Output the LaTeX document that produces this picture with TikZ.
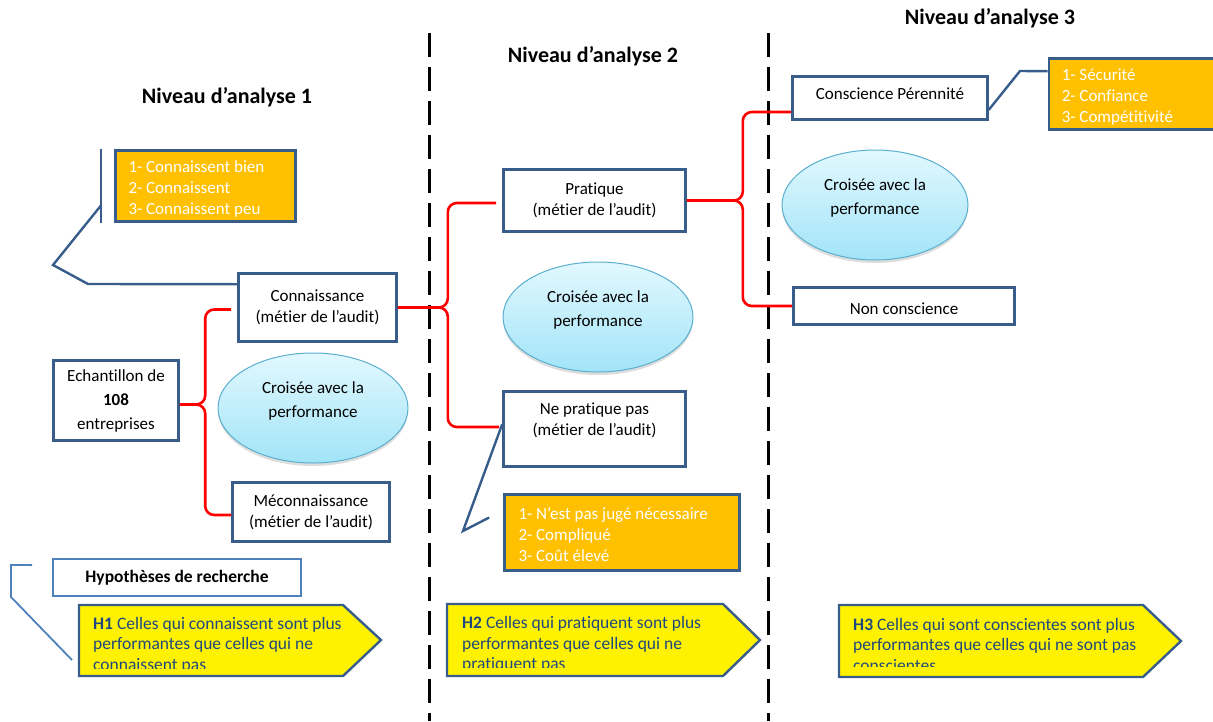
\documentclass[tikz,border=0pt]{standalone}
\usepackage{fontspec}
\setmainfont{Carlito}[Ligatures=NoCommon]
\usetikzlibrary{shapes.geometric,shadows,calc}

\definecolor{boxblue}{HTML}{385D8A}
\definecolor{paleblue}{HTML}{4F81BD}
\definecolor{amber}{HTML}{FFC000}
\definecolor{hypink}{HTML}{1F497D}
\definecolor{ellline}{HTML}{5AAFCF}
\definecolor{elltop}{HTML}{E2F8FE}
\definecolor{ellbot}{HTML}{A2E4F8}

\newcommand\bodyfont{\fontsize{17}{21}\selectfont}
\newcommand\ovalfont{\fontsize{17}{24}\selectfont}
\newcommand\headfont{\fontsize{22}{26}\selectfont\bfseries}
\newcommand\hypfont{\fontsize{17.5}{20.5}\selectfont}
\newcommand\topstrut{\rule{0pt}{17pt}}

\begin{document}
\begin{tikzpicture}[x=1pt,y=-1pt,
  every node/.style={font=\bodyfont},
  stepbox/.style={draw=boxblue, line width=2.6pt, fill=white, inner sep=0pt, align=center,
                  execute at begin node=\topstrut},
  listbox/.style={draw=boxblue, line width=2.6pt, fill=amber, text=white, align=flush left,
                  inner ysep=0pt, inner xsep=13pt, execute at begin node=\topstrut},
  crossed/.style={ellipse, draw=ellline, line width=1pt, top color=elltop, bottom color=ellbot,
                  minimum width=190pt, minimum height=110pt, inner sep=0pt, align=center,
                  font=\ovalfont,
                  drop shadow={shadow xshift=0pt, shadow yshift=-3pt, opacity=0.22, fill=black!60}},
  brace/.style={draw=red, line width=2.6pt, rounded corners=9pt},
  leader/.style={draw=boxblue, line width=2.4pt},
  divider/.style={line width=3pt, dash pattern=on 24pt off 10pt},
  level/.style={font=\headfont},
  hyparrow/.style={draw=boxblue, line width=2.4pt, fill=yellow, line join=miter},
  hyptext/.style={font=\hypfont, text=hypink, align=flush left, inner sep=0pt, anchor=base west}
]
\useasboundingbox (0,0) rectangle (1213,721);
\clip (0,0) rectangle (1213,721);

% column separators
\coordinate (sepA top) at (429,33);
\coordinate (sepA bot) at (429,721);
\coordinate (sepB top) at (768,33);
\coordinate (sepB bot) at (768,721);
\draw[divider] (sepA top) -- (sepA bot);
\draw[divider] (sepB top) -- (sepB bot);

% level titles
\node[level] (lvl1) at (227,97) {Niveau d’analyse 1};
\node[level] (lvl2) at (593,56) {Niveau d’analyse 2};
\node[level] (lvl3) at (990,18) {Niveau d’analyse 3};

% ---- level 1 ----
\node[stepbox, minimum width=125pt, minimum height=80pt] (ech) at (116,400.5)
  {Echantillon de\\[3pt]\textbf{108}\\[3pt]entreprises};
\node[stepbox, minimum width=158pt, minimum height=68pt] (conn) at (317.5,307.5)
  {Connaissance\\(métier de l’audit)};
\node[stepbox, minimum width=157pt, minimum height=59pt] (mecon) at (311,512)
  {Méconnaissance\\(métier de l’audit)};
\node[crossed] (ell1) at (313,408) {Croisée avec la\\performance\\[-8pt]\mbox{}};
\node[listbox, text width=154pt, minimum height=71pt] (list1) at (205.5,186)
  {1- Connaissent bien\\2- Connaissent\\3- Connaissent peu};

\draw[brace] ([xshift=-6pt,yshift=-2pt]conn.west) -- ++(-26,0) |- ([yshift=-4pt]ech.east);
\draw[brace] ([yshift=-3pt]mecon.west) -- ++(-26,0) |- ([yshift=-4pt]ech.east);

% accent bar and leader to the knowledge box
\draw[leader] ($(list1.north west)+(-13,0)$) -- ($(list1.south west)+(-13,0)$);
\draw[leader] ($(list1.north west)+(-13,56)$) -- (53,265) -- (88,284)
  -- ($(conn.north west)+(0,12)$);

% ---- level 2 ----
\node[stepbox, minimum width=182pt, minimum height=62pt] (prat) at (594.5,200.5)
  {Pratique\\(métier de l’audit)};
\node[stepbox, minimum width=182pt, minimum height=75pt] (neprat) at (594.5,429)
  {Ne pratique pas\\(métier de l’audit)\\[-2pt]\mbox{}};
\node[crossed] (ell2) at (598,317) {Croisée avec la\\performance\\[-8pt]\mbox{}};
\node[listbox, text width=207pt, minimum height=76pt, inner xsep=14pt] (list2) at (622,532.5)
  {1- N’est pas jugé nécessaire\\2- Compliqué\\3- Coût élevé};

\draw[brace] ([xshift=-6pt,yshift=-2.5pt]prat.west) -| ($(conn.east)+(50,0)$) -- (conn.east);
\draw[brace] ([xshift=-3pt,yshift=2pt]neprat.west) -| ($(conn.east)+(50,0)$) -- (conn.east);

\coordinate (tip2) at (463,531);
\draw[leader] ($(neprat.north west)+(0,34)$) -- (tip2) -- ($(list2.west)+(-14,-15)$);

% ---- level 3 ----
\node[stepbox, minimum width=195pt, minimum height=43pt] (consc) at (890,98)
  {Conscience Pérennité\\[-13pt]\mbox{}};
\node[stepbox, minimum width=221pt, minimum height=37pt, execute at begin node={}] (noncon) at (904,306)
  {Non conscience};
\node[crossed, minimum width=186pt] (ell3) at (875,205) {Croisée avec la\\performance\\[-8pt]\mbox{}};
\node[listbox, text width=160pt, minimum height=71pt, anchor=west] (list3) at (1047.5,94)
  {1- Sécurité\\2- Confiance\\3- Compétitivité};

\draw[brace] ([yshift=-14pt]consc.west) -| ($(prat.east)+(56,0)$) -- (prat.east);
\draw[brace] (noncon.west) -| ($(prat.east)+(56,0)$) -- (prat.east);

\draw[leader] ($(consc.south east)+(0,-11)$) -- (1020,71) -- ($(list3.north west)+(0,14)$);

% ---- research hypotheses ----
\node[draw=paleblue, line width=1.8pt, fill=white, minimum width=248pt, minimum height=37pt,
      inner sep=0pt, font=\fontsize{17.5}{20}\selectfont\bfseries] (hyp) at (177,577.5)
  {Hypothèses de recherche};
\draw[draw=paleblue, line width=1.8pt] ($(hyp.north west)+(-20,7)$) -- (11,565) -- (11,597) -- (72,660);

% H1
\draw[hyparrow] (79,605) -- (343,605) -- (381,640) -- (343,676) -- (79,676) -- cycle;
\begin{scope}
  \clip (79,605) rectangle (381,668.5);
  \node[hyptext, text width=280pt] (h1) at (93,629)
    {\textbf{H1} Celles qui connaissent sont plus\\performantes que celles qui ne\\connaissent pas};
\end{scope}

% H2
\draw[hyparrow] (447,604) -- (723,604) -- (760,640) -- (723,676) -- (447,676) -- cycle;
\begin{scope}
  \clip (447,604) rectangle (760,667);
  \node[hyptext, text width=290pt] (h2) at (462,628.5)
    {\textbf{H2} Celles qui pratiquent sont plus\\performantes que celles qui ne\\pratiquent pas};
\end{scope}

% H3
\draw[hyparrow] (839,605) -- (1143,605) -- (1181,641) -- (1143,677) -- (839,677) -- cycle;
\begin{scope}
  \clip (839,605) rectangle (1181,666.5);
  \node[hyptext, text width=320pt] (h3) at (853,630)
    {\textbf{H3} Celles qui sont conscientes sont plus\\performantes que celles qui ne sont pas\\conscientes};
\end{scope}
\end{tikzpicture}
\end{document}
